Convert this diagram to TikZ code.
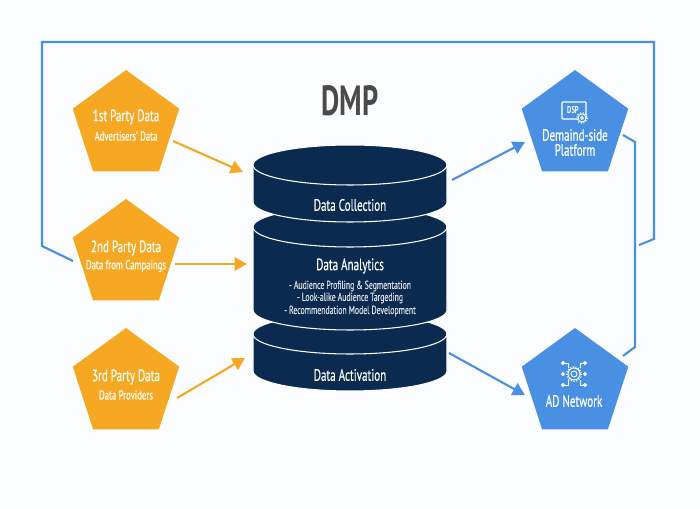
\documentclass[tikz,border=0pt]{standalone}
\usepackage{fontspec}
\setmainfont[FakeStretch=0.67,FakeBold=0.35,BoldFeatures={FakeBold=0}]{PT Sans}
\usetikzlibrary{arrows.meta}
\usetikzlibrary{shapes.geometric}
\definecolor{bgcol}{HTML}{FCFDFF}
\definecolor{orangecol}{HTML}{F7A823}
\definecolor{bluecol}{HTML}{4A90E2}
\definecolor{navycol}{HTML}{0A2A50}
\definecolor{titlecol}{HTML}{4A4A4A}
\tikzset{
  penta/.style={regular polygon,regular polygon sides=5,minimum size=2.24cm,inner sep=0pt,outer sep=0pt},
  orangepenta/.style={penta,fill=orangecol},
  bluepenta/.style={penta,fill=bluecol},
  bigtext/.style={text=white,inner sep=0pt,font=\fontsize{9.4}{11}\selectfont},
  smalltext/.style={text=white,inner sep=0pt,font=\fontsize{7.4}{9}\selectfont},
  listtext/.style={text=white!85!navycol,inner sep=0pt,font=\fontsize{6.6}{8}\selectfont},
  orangearrow/.style={draw=orangecol,line width=1.2pt,-{Triangle[length=7pt,width=7.5pt]}},
  bluearrow/.style={draw=bluecol,line width=1.2pt,-{Triangle[length=7pt,width=7.5pt]}},
  loopline/.style={draw=bluecol,line width=1.2pt,miter limit=4},
  iconline/.style={draw=white,line width=0.5pt}
}
\newcommand{\dbdisk}[2]{
  \draw[fill=navycol,draw=white,line width=0.6pt] (253,#1)
    arc[start angle=180,end angle=0,x radius=1.94cm,y radius=0.4cm] -- (447,#2)
    arc[start angle=0,end angle=-180,x radius=1.94cm,y radius=0.4cm] -- cycle;
  \draw[draw=white,line width=0.6pt] (253,#1)
    arc[start angle=180,end angle=360,x radius=1.94cm,y radius=0.4cm];
}
\begin{document}
\begin{tikzpicture}[x=0.02cm,y=-0.02cm]
    \fill[bgcol] (0,0) rectangle (700,509);
    \node[text=titlecol,inner sep=0pt,font=\fontsize{24}{28}\bfseries\selectfont] (title) at (350,101) {DMP};

    % loop lines behind the pentagons
    \coordinate (loopa) at (73,261);
    \coordinate (loopb) at (42,246);
    \coordinate (loopc) at (42,42);
    \coordinate (loopd) at (654,42);
    \coordinate (loope) at (654,239);
    \coordinate (loopf) at (639,245);
    \draw[loopline] (loopa) -- (loopb) -- (loopc) -- (loopd) -- (loope) -- (loopf);
    \coordinate (linka) at (623,135);
    \coordinate (linkb) at (635,142);
    \coordinate (linkc) at (635,347);
    \coordinate (linkd) at (623,356);
    \draw[loopline] (linka) -- (linkb) -- (linkc) -- (linkd);

    % sources
    \node[orangepenta] (first) at (126,126) {};
    \node[orangepenta] (second) at (126,255) {};
    \node[orangepenta] (third) at (126,384) {};
    \node[bigtext] (firsttitle) at (126,117) {1st Party Data};
    \node[smalltext] (firstsub) at (126,136) {Advertisers' Data};
    \node[bigtext] (secondtitle) at (126,248) {2nd Party Data};
    \node[smalltext] (secondsub) at (126,266) {Data from Campaings};
    \node[bigtext] (thirdtitle) at (126,377) {3rd Party Data};
    \node[smalltext] (thirdsub) at (126,395) {Data Providers};

    % targets
    \node[bluepenta] (dsp) at (575,126) {};
    \node[bluepenta] (adnet) at (575,384) {};
    \node[bigtext] (dsptitle) at (575,135) {Demaind-side};
    \node[bigtext] (dspsub) at (575,150) {Platform};
    \node[bigtext] (adtitle) at (574,401) {AD Network};

    % dsp icon
    \draw[iconline,line width=0.7pt,rounded corners=0.5pt] (562,102) rectangle (586,119);
    \node[text=white,inner sep=0pt,font=\fontsize{5.6}{6}\bfseries\selectfont] (dspicon) at (573,110) {DSP};
    \draw[iconline,fill=bluecol,densely dotted,line width=1.2pt] (582,118) circle (5);
    \draw[iconline,fill=bluecol] (582,118) circle (4);
    \draw[iconline] (582,118) circle (1.5);

    % network icon
    \draw[iconline,densely dotted,line width=1pt] (574,374) circle (7);
    \draw[iconline] (574,374) circle (6);
    \draw[iconline] (574,374) circle (3);
    \foreach \sx in {-1,1} {
      \draw[iconline,fill=white] (574+\sx*11,363) circle (1.6);
      \draw[iconline,fill=white] (574+\sx*11,385) circle (1.6);
      \draw[iconline,fill=white] (574+\sx*11,374) circle (1.6);
      \draw[iconline] (574+\sx*10,363) -- (574+\sx*6,363) -- (574+\sx*6,368);
      \draw[iconline] (574+\sx*10,385) -- (574+\sx*6,385) -- (574+\sx*6,380);
    }

    % database
    \dbdisk{334}{371}
    \dbdisk{227}{310}
    \dbdisk{165}{202}
    \node[bigtext] (collect) at (350,205) {Data Collection};
    \node[bigtext] (analytics) at (350,266) {Data Analytics};
    \node[listtext] (lista) at (350,286) {- Audience Profiling \& Segmentation};
    \node[listtext] (listb) at (350,298) {- Look-alike Audience Targeding};
    \node[listtext] (listc) at (350,311) {- Recommendation Model Development};
    \node[bigtext] (activate) at (350,375) {Data Activation};

    % arrows
    \coordinate (oa) at (173,141);
    \coordinate (ob) at (243,172);
    \coordinate (oc) at (175,264);
    \coordinate (od) at (247,264);
    \coordinate (oe) at (177,398);
    \coordinate (of) at (245,358);
    \draw[orangearrow] (oa) -- (ob);
    \draw[orangearrow] (oc) -- (od);
    \draw[orangearrow] (oe) -- (of);
    \coordinate (ba) at (452,180);
    \coordinate (bb) at (525,142);
    \coordinate (bc) at (449,353);
    \coordinate (bd) at (525,395);
    \draw[bluearrow] (ba) -- (bb);
    \draw[bluearrow] (bc) -- (bd);
\end{tikzpicture}
\end{document}
